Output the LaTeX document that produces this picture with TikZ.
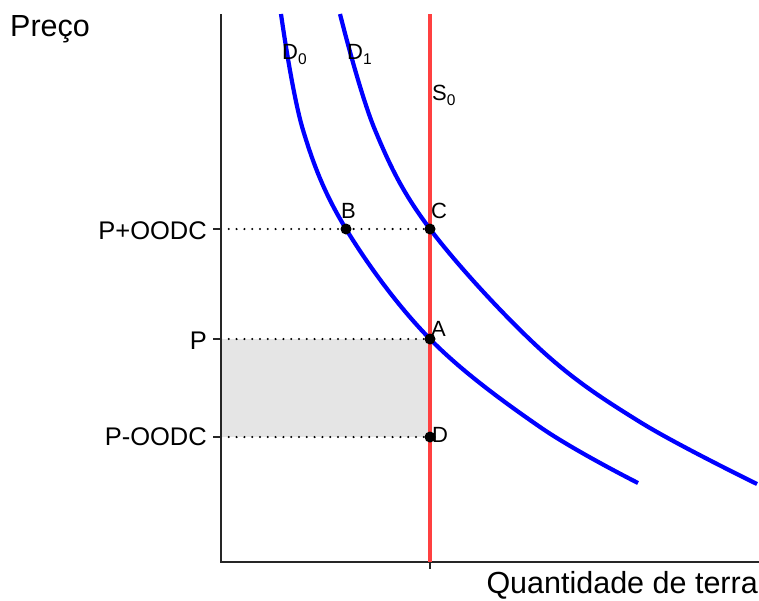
\documentclass[tikz,border=0pt]{standalone}
\usepackage{fontspec}
\setmainfont{Liberation Sans}
\definecolor{supred}{RGB}{255,64,64}
\definecolor{shadegray}{RGB}{229,229,229}
\newcommand\lsub[1]{\raisebox{-5pt}{\fontsize{15.5}{15.5}\selectfont #1}}
\begin{document}
\begin{tikzpicture}[x=1pt,y=-1pt,
  axis/.style={line width=2pt, black!85},
  demand/.style={line width=4.2pt, blue},
  supply/.style={line width=4pt, supred},
  guide/.style={line width=2.3pt, black, line cap=round, dash pattern=on 0pt off 7.8pt},
  pt/.style={circle, fill=black, inner sep=0pt, minimum size=11pt},
  ptlab/.style={font=\fontsize{22}{26}\selectfont, inner sep=0pt, anchor=base west},
  ticklab/.style={font=\fontsize{25.5}{30}\selectfont, inner sep=0pt, anchor=base east},
  curvelab/.style={font=\fontsize{22}{26}\selectfont, inner sep=0pt, anchor=base west},
  axtitle/.style={font=\fontsize{30.5}{36}\selectfont, inner sep=0pt}]
\useasboundingbox (0,0) rectangle (759,600);
% key coordinates
\coordinate (O) at (221,562);
\coordinate (Ytop) at (221,14);
\coordinate (Xend) at (759,562);
\coordinate (Stop) at (430,14);
\coordinate (Sbot) at (430,562);
\coordinate (yPp) at (221,229);
\coordinate (yP) at (221,339);
\coordinate (yPm) at (221,437);
\coordinate (Cend) at (438,229);
% shaded area
\fill[shadegray] (yP) rectangle (430,437);
% guides
\draw[guide] (yPp) -- (Cend);
\draw[guide] (yP) -- (430,339);
\draw[guide] (yPm) -- (430,437);
% axes
\draw[axis] (Ytop) -- (O) -- (Xend);
\draw[axis] (yPp) -- ++(-8,0);
\draw[axis] (yP) -- ++(-8,0);
\draw[axis] (yPm) -- ++(-8,0);
\draw[axis] (Sbot) -- ++(0,7);
% supply
\draw[supply] (Stop) -- (Sbot);
% demand curves
\draw[demand] plot[smooth, tension=0.6] coordinates {(281,14) (303,130) (346,229) (430,339) (540,427) (638,483)};
\draw[demand] plot[smooth, tension=0.6] coordinates {(340,14) (375,130) (430,229) (540,349) (640,422) (757,484)};
% points
\node[pt] (A) at (430,339) {};
\node[pt] (B) at (346,229) {};
\node[pt] (C) at (430,229) {};
\node[pt] (D) at (430,437) {};
% labels
\node[ptlab] (lB) at (341,218) {B};
\node[ptlab] (lC) at (431,218) {C};
\node[ptlab] (lA) at (431,336) {A};
\node[ptlab] (lD) at (432,442) {D};
\node[curvelab] (lD0) at (282,59) {D\lsub{0}};
\node[curvelab] (lD1) at (347,59) {D\lsub{1}};
\node[curvelab] (lS0) at (432,100) {S\lsub{0}};
\node[ticklab] (tPp) at (207,239) {P+OODC};
\node[ticklab] (tP) at (207,349) {P};
\node[ticklab] (tPm) at (207,445) {P-OODC};
\node[axtitle, anchor=base west] (ty) at (10,36) {Preço};
\node[axtitle, anchor=base east] (tx) at (758,593) {Quantidade de terra};
\end{tikzpicture}
\end{document}
